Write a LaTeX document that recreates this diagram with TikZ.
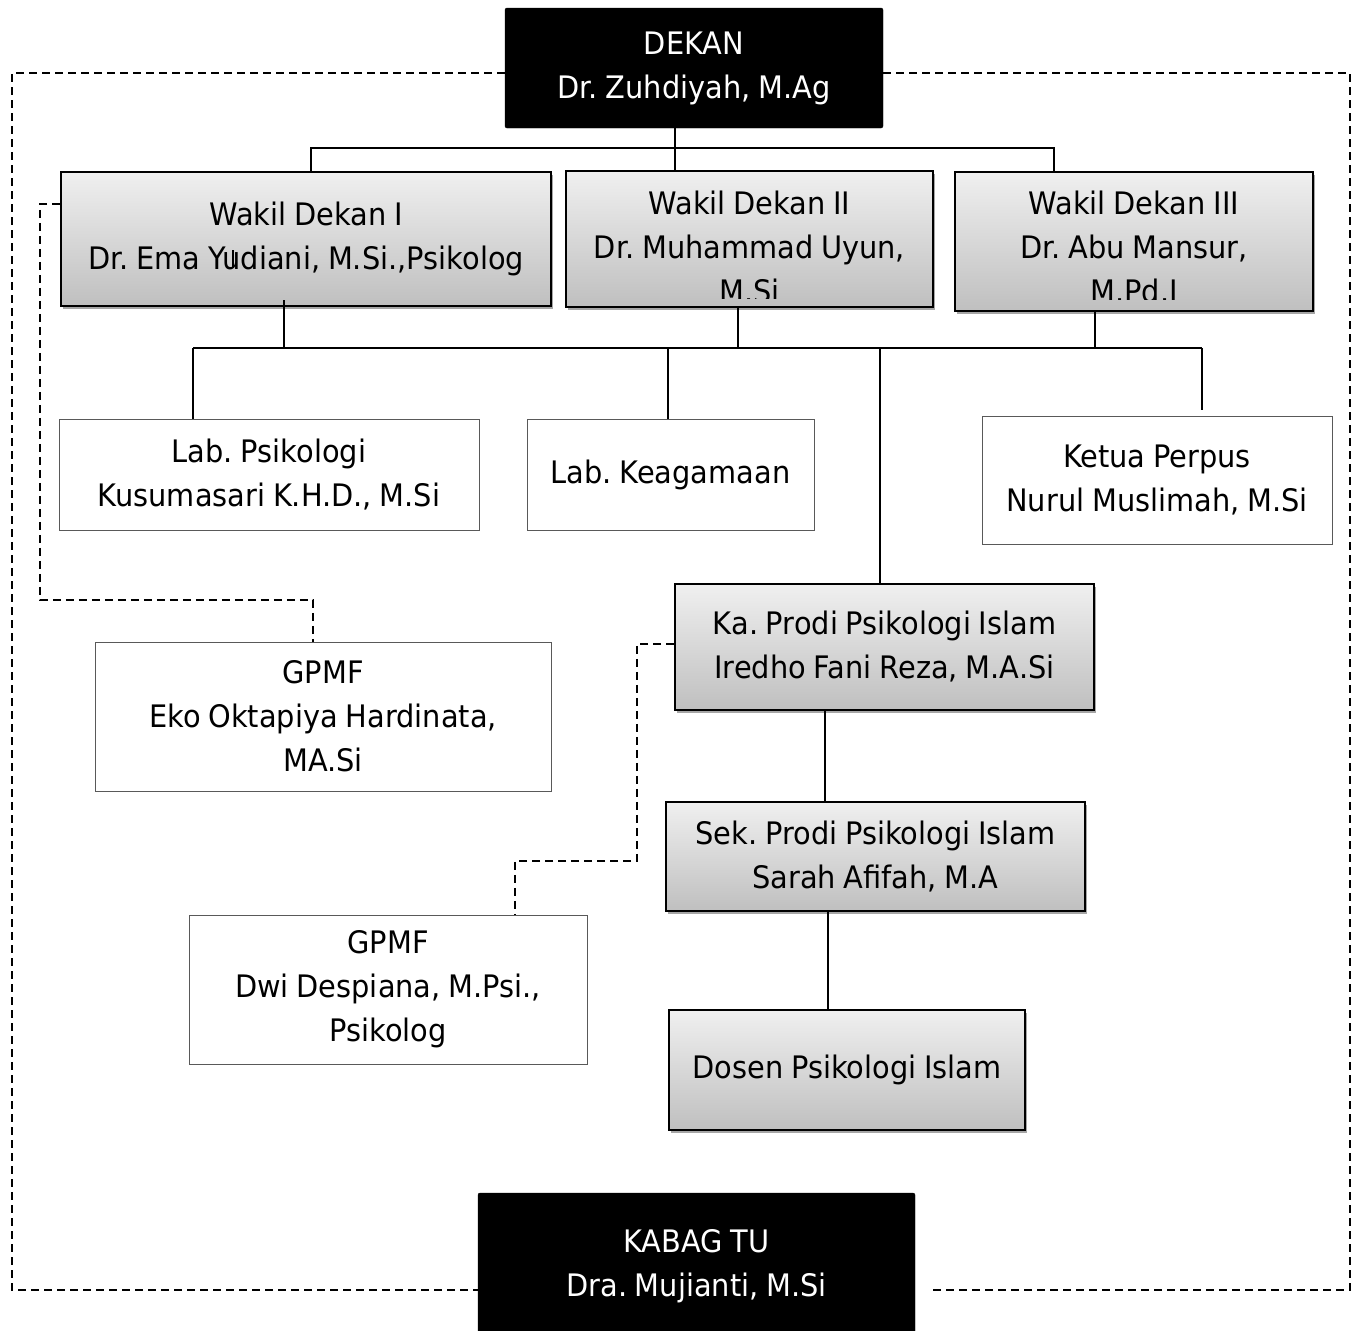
\documentclass[tikz,border=0pt]{standalone}
\usepackage{fontspec}
\setmainfont{DejaVu Sans}[FakeStretch=0.93, WordSpace=0.85]
\frenchspacing
\usetikzlibrary{shadows}
\begin{document}
\begin{tikzpicture}[x=1pt,y=-1pt,
  conn/.style={line width=1.8pt},
  dsh/.style={line width=1.5pt, dash pattern=on 8pt off 5pt},
  blackbox/.style={draw=black, fill=black, rounded corners=2pt, text=white, inner sep=0pt, align=center, font=\fontsize{31}{44}\selectfont},
  greybox/.style={draw=black, line width=1.6pt, top color=gray!12, bottom color=gray!50, drop shadow={shadow xshift=2pt, shadow yshift=-3pt, opacity=0.35, fill=black}, inner sep=0pt, align=center, font=\fontsize{31}{44}\selectfont},
  whitebox/.style={draw=black!65, line width=1pt, fill=white, inner sep=0pt, align=center, font=\fontsize{31}{44}\selectfont},
  txt/.style={inner sep=0pt, align=center, font=\fontsize{31}{44}\selectfont}
]
\useasboundingbox (0,0) rectangle (1353,1331);

% boxes
\node[blackbox, minimum width=378pt, minimum height=120pt] (dekan) at (694,68) {DEKAN\\Dr. Zuhdiyah, M.Ag};
\node[greybox, minimum width=490pt, minimum height=134pt] (wd1) at (306,239) {Wakil Dekan I\\Dr. Ema Yudiani, M.Si.,Psikolog};
\node[greybox, minimum width=367pt, minimum height=136pt] (wd2) at (749.5,239) {};
\node[greybox, minimum width=358pt, minimum height=139pt] (wd3) at (1134,241.5) {};
\begin{scope}
  \clip (566,171) rectangle (933,298);
  \node[txt] (wd2t) at (749.5,247) {Wakil Dekan II\\Dr. Muhammad Uyun,\\M.Si};
\end{scope}
\begin{scope}
  \clip (955,172) rectangle (1313,299);
  \node[txt] (wd3t) at (1134,247) {Wakil Dekan III\\Dr. Abu Mansur,\\M.Pd.I};
\end{scope}
\node[whitebox, minimum width=420pt, minimum height=111pt] (labp) at (269,474.5) {Lab. Psikologi\\Kusumasari K.H.D., M.Si};
\node[whitebox, minimum width=287pt, minimum height=111pt] (labk) at (670.5,474.5) {Lab. Keagamaan};
\node[whitebox, minimum width=350pt, minimum height=128pt] (perpus) at (1157,480) {Ketua Perpus\\Nurul Muslimah, M.Si};
\node[greybox, minimum width=419pt, minimum height=126pt] (kaprodi) at (884.5,647) {Ka. Prodi Psikologi Islam\\Iredho Fani Reza, M.A.Si};
\node[greybox, minimum width=419pt, minimum height=109pt] (sek) at (875.5,856.5) {Sek. Prodi Psikologi Islam\\Sarah Afifah, M.A};
\node[greybox, minimum width=356pt, minimum height=120pt] (dosen) at (847,1070) {Dosen Psikologi Islam};
\node[whitebox, minimum width=456pt, minimum height=149pt] (gpmf1) at (323,716.5) {GPMF\\Eko Oktapiya Hardinata,\\MA.Si};
\node[whitebox, minimum width=398pt, minimum height=149pt] (gpmf2) at (388,989.5) {GPMF\\Dwi Despiana, M.Psi.,\\Psikolog};
\node[blackbox, minimum width=437pt, minimum height=146pt] (kabag) at (696.5,1266) {KABAG TU\\Dra. Mujianti, M.Si};

% junction coordinates
\coordinate (j0) at (675,148);
\coordinate (b1) at (311,148);
\coordinate (b3) at (1054,148);
\coordinate (w1) at (284,300);
\coordinate (w2) at (738,348);
\coordinate (w3) at (1095,348);
\coordinate (bL) at (193,348);
\coordinate (bR) at (1202,348);
\coordinate (bK) at (668,348);
\coordinate (bP) at (880,348);
\coordinate (k1) at (825,0);
\coordinate (s1) at (828,0);
\coordinate (yart) at (233,250);

% solid connectors
\draw[conn] (dekan.south -| j0) -- (wd2.north -| j0);
\draw[conn] (wd1.north -| b1) -- (b1) -- (b3) -- (wd3.north -| b3);
\draw[conn] (w1) -- (w1 |- bL);
\draw[conn] (wd2.south -| w2) -- (w2);
\draw[conn] (wd3.south -| w3) -- (w3);
\draw[conn] (bL) -- (bR);
\draw[conn] (bL) -- (labp.north -| bL);
\draw[conn] (bK) -- (labk.north -| bK);
\draw[conn] (bP) -- (kaprodi.north -| bP);
\draw[conn] (bR) -- ([yshift=6pt]perpus.north -| bR);
\draw[line width=1.4pt] (kaprodi.south -| k1) -- (sek.north -| k1);
\draw[line width=1.4pt] (sek.south -| s1) -- (dosen.north -| s1);
\draw[line width=1.2pt] (yart) -- ++(0,18);

% dashed connectors
\coordinate (fTL) at (12,73);
\coordinate (fTR) at (1350,73);
\coordinate (fBL) at (12,1290);
\coordinate (fBR) at (1350,1290);
\coordinate (fB2) at (930,1290);
\draw[dsh] (dekan.west |- fTL) -- (fTL) -- (fBL) -- (kabag.west |- fBL);
\draw[dsh] (dekan.east |- fTR) -- (fTR) -- (fBR) -- (fB2);

\coordinate (d1) at (40,204);
\coordinate (d2) at (313,600);
\draw[dsh] (wd1.west |- d1) -- (d1) -- (d1 |- d2) -- (d2) -- (gpmf1.north -| d2);

\coordinate (e1) at (637,644);
\coordinate (e2) at (515,861);
\draw[dsh] (kaprodi.west |- e1) -- (e1) -- (e1 |- e2) -- (e2) -- (gpmf2.north -| e2);
\end{tikzpicture}
\end{document}
